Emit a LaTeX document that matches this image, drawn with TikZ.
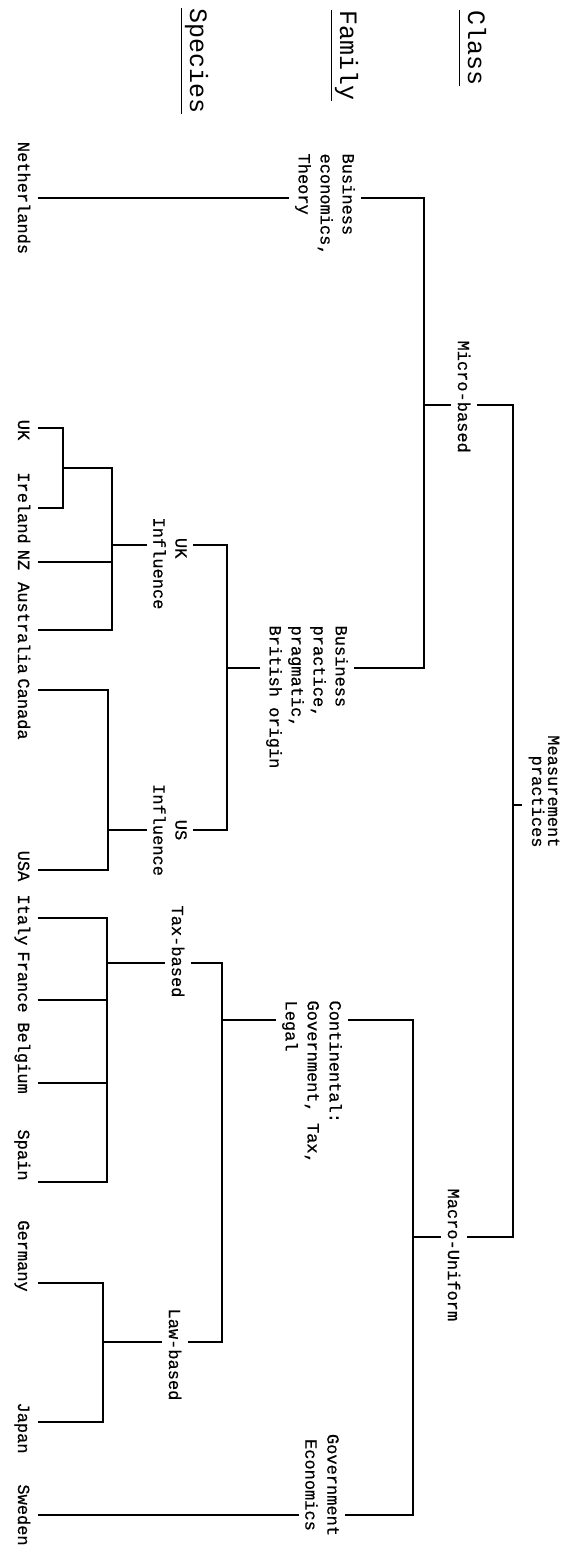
\documentclass[tikz,border=0pt]{standalone}
\usepackage{fontspec}
\newfontfamily\typewr[FakeBold=0.6]{Liberation Mono}
\newfontfamily\headfnt{Liberation Mono}

\begin{document}
\begin{tikzpicture}[x=1pt, y=-1pt, line width=1.1pt,
  head/.style={font=\headfnt\fontsize{25}{30}\selectfont, rotate=-90, anchor=west,
    text height=14pt, text depth=0pt, inner xsep=0pt, inner ysep=8pt},
  leaf/.style={font=\typewr\fontsize{17}{22}\selectfont, rotate=-90,
    text height=11pt, text depth=3pt, inner xsep=0pt, inner ysep=8pt},
  grp/.style={font=\typewr\fontsize{17}{22}\selectfont, rotate=-90, align=left,
    inner xsep=0pt, inner ysep=6pt}]
\useasboundingbox (0,0) rectangle (564,1555);

% headings
\node[head] (cls) at (475,10) {Class};
\node[head] (fam) at (347,10) {Family};
\node[head] (spc) at (197,8) {Species};
\foreach \h in {cls,fam,spc}
  \draw[line width=0.9pt] (\h.south west) -- (\h.south east);

% species
\node[leaf] (neth) at (22,198) {Netherlands};
\node[leaf] (uk) at (22,430) {UK};
\node[leaf] (irl) at (22,508) {Ireland};
\node[leaf] (nz) at (22,560) {NZ};
\node[leaf] (aus) at (22,628) {Australia};
\node[leaf] (can) at (22,709) {Canada};
\node[leaf] (usa) at (22,866) {USA};
\node[leaf] (ita) at (22,920) {Italy};
\node[leaf] (fra) at (22,982) {France};
\node[leaf] (bel) at (22,1058) {Belgium};
\node[leaf] (spa) at (22,1155) {Spain};
\node[leaf] (ger) at (22,1256) {Germany};
\node[leaf] (jap) at (22,1428) {Japan};
\node[leaf] (swe) at (22,1515) {Sweden};

% groups and families
\node[grp, anchor=west] (ukinf) at (170,517) {\phantom{In}UK\\Influence};
\node[grp, align=center] (usinf) at (170,830) {US\\Influence};
\node[grp, anchor=west] (taxb) at (178,905) {Tax-based};
\node[grp, anchor=west] (lawb) at (175,1308) {Law-based};
\node[grp, anchor=west] (bec) at (325,153) {Business\\economics,\\Theory};
\node[grp, anchor=west] (bprac) at (307,625) {Business\\practice,\\pragmatic,\\British origin};
\node[grp, anchor=west] (cont) at (312,1000) {Continental:\\Government, Tax,\\Legal};
\node[grp, align=center] (goveco) at (322,1485) {Government\\Economics};

% classes
\node[grp, anchor=west] (micro) at (464,340) {Micro-based};
\node[grp, anchor=west] (macro) at (454,1188) {Macro-Uniform};
\node[grp, align=right, anchor=east, font=\typewr\fontsize{17}{16}\selectfont] (meas) at (544,848) {Measurement\\practices};

% junctions
\coordinate (ukir) at (63,468);
\coordinate (ukv) at (112,545);
\coordinate (usv) at (108,830);
\coordinate (taxv) at (107,963);
\coordinate (lawv) at (103,1342);
\coordinate (bpv) at (227,668);
\coordinate (contv) at (222,1020);
\coordinate (mbv) at (424,405);
\coordinate (macv) at (413,1237);
\coordinate (mpv) at (513,805);

% species to groups
\draw ([yshift=2pt]uk.north) -| (ukir) |- (irl.north);
\draw (ukir) -| (ukv) |- ([yshift=-2pt]aus.north);
\draw ([yshift=-2pt]nz.north) -- ([yshift=-2pt]nz.north -| ukv);
\draw (ukv) -- (ukv -| ukinf.south);
\draw ([yshift=19pt]can.north) -| (usv) |- ([yshift=-4pt]usa.north);
\draw (usv) -- (usv -| usinf.south);
\draw ([yshift=2pt]ita.north) -| (taxv) |- ([yshift=-27pt]spa.north);
\draw ([yshift=-18pt]fra.north) -- ([yshift=-18pt]fra.north -| taxv);
\draw ([yshift=-25pt]bel.north) -- ([yshift=-25pt]bel.north -| taxv);
\draw (taxv) -- (taxv -| taxb.south);
\draw ([yshift=-27pt]ger.north) -| (lawv) |- ([yshift=6pt]jap.north);
\draw (lawv) -- (lawv -| lawb.south);
\draw (neth.north) -- (neth.north -| bec.south);
\draw (swe.north) -- (swe.north -| goveco.south);

% groups to families
\draw (ukinf.north |- ukv) -| (bpv) |- (usinf.north |- usv);
\draw (bpv) -- (bpv -| bprac.south);
\draw (taxb.north |- taxv) -| (contv) |- (lawb.north |- lawv);
\draw (contv) -- (contv -| cont.south);

% families to classes
\draw (bec.north |- neth.north) -| (mbv) |- (bprac.north |- bpv);
\draw (mbv) -- (mbv -| micro.south);
\draw (cont.north |- contv) -| (macv) |- (goveco.north |- swe.north);
\draw (macv) -- (macv -| macro.south);
\draw (micro.north |- mbv) -| (mpv) |- (macro.north |- macv);
\draw (mpv) -- (mpv -| meas.south);
\end{tikzpicture}
\end{document}
